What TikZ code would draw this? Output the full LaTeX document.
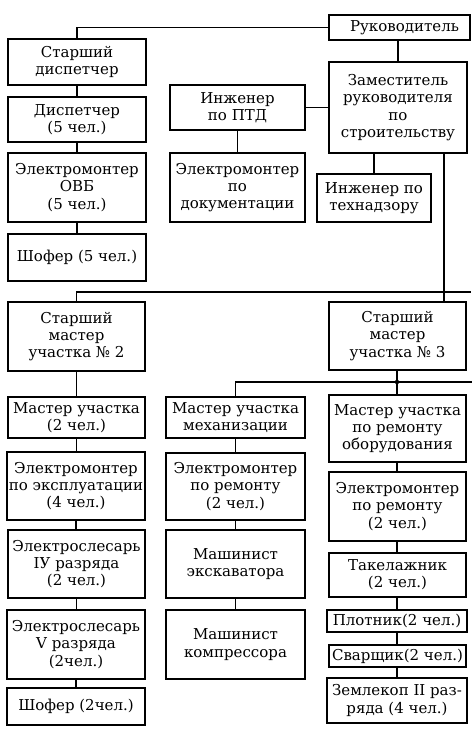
\documentclass[tikz,border=0pt]{standalone}
\usepackage{fontspec}
\setmainfont{DejaVu Serif}
\tikzset{
  box/.style={draw, line width=1.1pt, align=center, inner sep=0pt, outer sep=0pt,
    font=\fontsize{15}{17.3}\selectfont},
  conn/.style={line width=1.1pt}
}
\newcommand\orgbox[6]{%
  \pgfmathsetmacro\obw{#4-#2}%
  \pgfmathsetmacro\obh{#5-#3}%
  \pgfmathsetmacro\obx{(#2+#4)/2}%
  \pgfmathsetmacro\oby{-(#3+#5)/2}%
  \node[box, minimum width=\obw pt, minimum height=\obh pt] (#1) at (\obx pt,\oby pt) {#6};%
}
\begin{document}
\begin{tikzpicture}
\fill[white] (0,0) rectangle (474pt,-731pt);
\useasboundingbox (0,0) rectangle (474pt,-731pt);
% top part
\orgbox{ruk}{329}{15}{470}{40}{\hspace*{10pt}Руководитель}
\orgbox{sd}{8}{39}{146}{85}{Старший\\диспетчер}
\orgbox{disp}{8}{97}{146}{142}{Диспетчер\\(5 чел.)}
\orgbox{ovb}{8}{153}{146}{222}{Электромонтер\\ОВБ\\(5 чел.)}
\orgbox{shof1}{8}{234}{146}{281}{Шофер (5 чел.)}
\orgbox{ptd}{170}{85}{305}{130}{Инженер\\по ПТД}
\orgbox{zam}{329}{62}{467}{153}{Заместитель\\руководителя\\по\\строительству}
\orgbox{doc}{170}{153}{305}{222}{Электромонтер\\по\\документации}
\orgbox{tech}{317}{174}{431}{222}{Инженер по\\технадзору}
% sections
\orgbox{sm2}{8}{302}{145}{371}{Старший\\мастер\\участка № 2}
\orgbox{sm3}{329}{302}{466}{370}{Старший\\мастер\\участка № 3}
% left column
\orgbox{mu}{8}{397}{145}{438}{Мастер участка\\(2 чел.)}
\orgbox{expl}{7}{452}{145}{520}{Электромонтер\\по эксплуатации\\(4 чел.)}
\orgbox{es4}{8}{530}{145}{598}{Электрослесарь\\IУ разряда\\(2 чел.)}
\orgbox{es5}{7}{610}{145}{679}{Электрослесарь\\V разряда\\(2чел.)}
\orgbox{shof2}{7}{688}{145}{725}{Шофер (2чел.)}
% middle column
\orgbox{mech}{166}{397}{305}{438}{Мастер участка\\механизации}
\orgbox{erem}{166}{453}{305}{520}{Электромонтер\\по ремонту\\(2 чел.)}
\orgbox{mash1}{166}{530}{305}{598}{Машинист\\экскаватора}
\orgbox{mash2}{166}{610}{305}{679}{Машинист\\компрессора}
% right column
\orgbox{rem}{329}{395}{466}{462}{Мастер участка\\по ремонту\\оборудования}
\orgbox{erem2}{329}{472}{466}{541}{Электромонтер\\по ремонту\\(2 чел.)}
\orgbox{tak}{329}{553}{466}{597}{Такелажник\\(2 чел.)}
\orgbox{plot}{327}{610}{467}{632}{Плотник(2 чел.)}
\orgbox{svar}{329}{645}{466}{667}{Сварщик(2 чел.)}
\orgbox{zeml}{327}{678}{467}{723}{Землекоп II раз-\\ряда (4 чел.)}
% coordinates
\coordinate (vx) at (444pt,-292pt);
\coordinate (hr1) at (471pt,-292pt);
\coordinate (dot) at (397pt,-382pt);
\coordinate (hr2) at (472pt,-382pt);
% connectors top
\draw[conn] (sd.north) |- (ruk.west);
\draw[conn] (sd) -- (disp);
\draw[conn] (disp) -- (ovb);
\draw[conn] (ovb) -- (shof1);
\draw[conn] (zam.north) -- (zam.north |- ruk.south);
\draw[conn] (ptd.east) -- (ptd.east -| zam.west);
\draw[conn] (ptd.south) -- (ptd.south |- doc.north);
\draw[conn] (tech.north) -- (tech.north |- zam.south);
\draw[conn] (vx |- zam.south) -- (vx |- sm3.north);
\draw[conn] (sm2.north) |- (hr1);
% section 2
\draw[conn] (sm2.south) -- (sm2.south |- mu.north);
\draw[conn] (mu.south) -- (mu.south |- expl.north);
\draw[conn] (expl.south) -- (expl.south |- es4.north);
\draw[conn] (es4.south) -- (es4.south |- es5.north);
\draw[conn] (es5.south) -- (es5.south |- shof2.north);
% section 3
\draw[conn] (mech.north) |- (hr2);
\draw[conn] (sm3.south -| dot) -- (rem.north -| dot);
\fill (dot) circle (2.2pt);
\draw[conn] (mech.south) -- (mech.south |- erem.north);
\draw[conn] (erem.south) -- (erem.south |- mash1.north);
\draw[conn] (mash1.south) -- (mash1.south |- mash2.north);
\draw[conn] (rem.south -| dot) -- (erem2.north -| dot);
\draw[conn] (erem2.south -| dot) -- (tak.north -| dot);
\draw[conn] (tak.south -| dot) -- (plot.north -| dot);
\draw[conn] (plot.south -| dot) -- (svar.north -| dot);
\draw[conn] (svar.south -| dot) -- (zeml.north -| dot);
\end{tikzpicture}
\end{document}
